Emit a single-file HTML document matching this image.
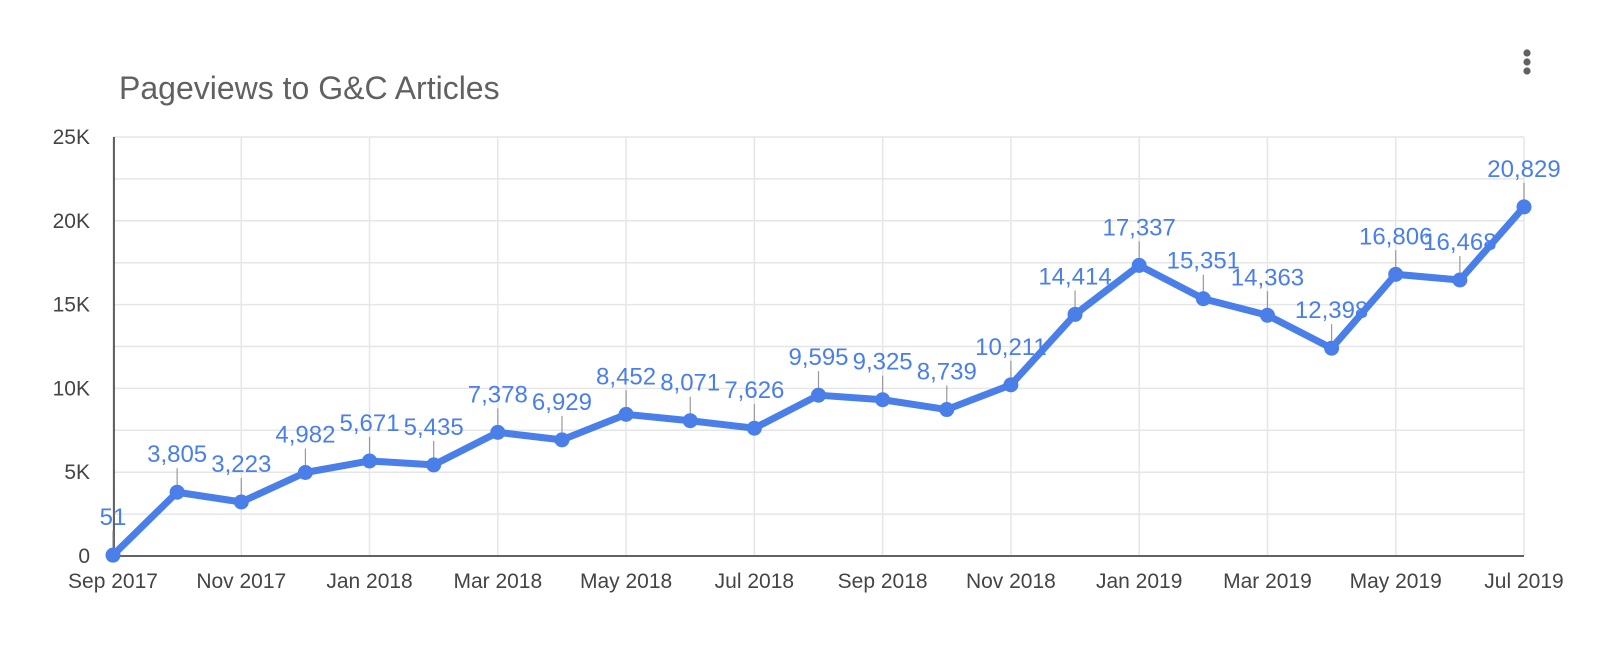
<!DOCTYPE html>
<html><head><meta charset="utf-8">
<style>
html,body{margin:0;padding:0;background:#fff;}
body{width:1600px;height:653px;overflow:hidden;font-family:"Liberation Sans",Arial,sans-serif;}
</style></head>
<body>
<svg id="chart" width="1600" height="653" xmlns="http://www.w3.org/2000/svg">
<text x="119" y="99" font-size="32" fill="#616161" font-family="Liberation Sans, sans-serif">Pageviews to G&amp;C Articles</text>
<g fill="#616161">
<circle cx="1527" cy="53" r="3.6"/><circle cx="1527" cy="62" r="3.6"/><circle cx="1527" cy="71" r="3.6"/>
</g>
<g id="grid"></g><g id="axes"></g><g id="series"></g>
</svg>
<script>
const months = ["Sep 2017","Oct 2017","Nov 2017","Dec 2017","Jan 2018","Feb 2018","Mar 2018","Apr 2018","May 2018","Jun 2018","Jul 2018","Aug 2018","Sep 2018","Oct 2018","Nov 2018","Dec 2018","Jan 2019","Feb 2019","Mar 2019","Apr 2019","May 2019","Jun 2019","Jul 2019"];
const pageviews = [51,3805,3223,4982,5671,5435,7378,6929,8452,8071,7626,9595,9325,8739,10211,14414,17337,15351,14363,12398,16806,16468,20829];
const yTicks = [0,5000,10000,15000,20000,25000];
const yTickLabels = ["0","5K","10K","15K","20K","25K"];

const X0=113, X1=1524, Y0=556, Y1=137, YMAX=25000;
const NS="http://www.w3.org/2000/svg";
function xs(i){return X0+(X1-X0)*i/(months.length-1);}
function ys(v){return Y0-(Y0-Y1)*v/YMAX;}
function mk(tag,attrs,parent){const e=document.createElementNS(NS,tag);for(const k in attrs)e.setAttribute(k,attrs[k]);parent.appendChild(e);return e;}
const grid=document.getElementById('grid'),axes=document.getElementById('axes'),series=document.getElementById('series');

for(let v=0;v<=YMAX;v+=2500){
  const g=mk('line',{x1:X0,x2:X1,y1:ys(v),y2:ys(v),stroke:'#e6e6e6','stroke-width':1.5},grid);
  
  
}
for(let i=0;i<months.length;i+=2){
  const g=mk('line',{x1:xs(i),x2:xs(i),y1:Y1,y2:Y0,stroke:'#e6e6e6','stroke-width':1.5},grid);
  
  
  const t=mk('text',{x:xs(i),y:Y0+32,'text-anchor':'middle','font-size':21,fill:'#444'},axes);
  t.textContent=months[i];
  
  
}
yTicks.forEach((v,k)=>{
  const t=mk('text',{x:90,y:ys(v)+7,'text-anchor':'end','font-size':21,fill:'#444'},axes);
  t.textContent=yTickLabels[k];
  
  
});
const ya=mk('line',{x1:X0+1,x2:X0+1,y1:Y1,y2:Y0,stroke:'#333','stroke-width':1.5},axes);


const xa=mk('line',{x1:X0,x2:X1,y1:Y0,y2:Y0,stroke:'#333','stroke-width':1.5},axes);



const pts=pageviews.map((v,i)=>xs(i)+','+ys(v)).join(' ');
const line=mk('polyline',{points:pts,fill:'none',stroke:'#4a7ee8','stroke-width':7,'stroke-linejoin':'round'},series);


pageviews.forEach((v,i)=>{
  const x=xs(i),y=ys(v);
  const s=mk('line',{x1:x,x2:x,y1:y-24,y2:y-5,stroke:'#999','stroke-width':1.2},series);
  
  
  const c=mk('circle',{cx:x,cy:y,r:7.5,fill:'#4a7ee8'},series);
  
  
  const t=mk('text',{x:x,y:y-30,'text-anchor':'middle','font-size':24,fill:'#4a7ee8'},series);
  t.textContent=v.toLocaleString('en-US');
  
  
});
</script>
</body></html>
